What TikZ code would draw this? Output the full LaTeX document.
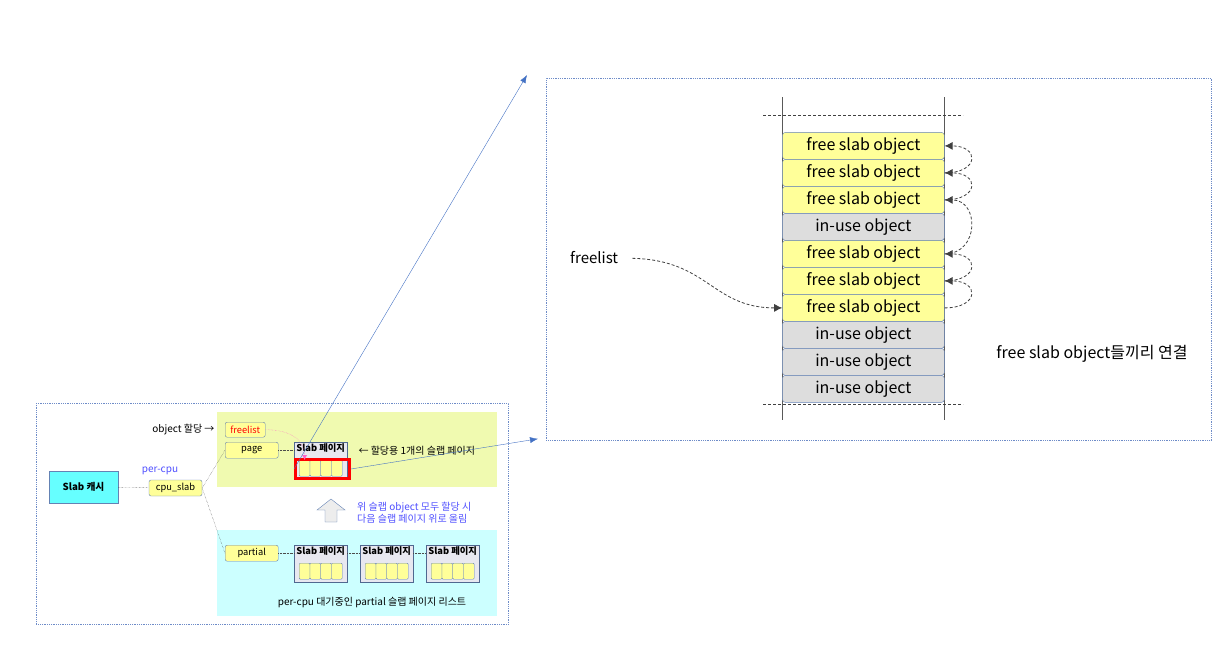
\documentclass[tikz,border=0pt]{standalone}
\usepackage{fontspec}
\setmainfont{Noto Sans CJK KR}
\usetikzlibrary{arrows.meta,positioning,calc,matrix}
\definecolor{FreeColor}{RGB}{255,255,153}
\definecolor{UsedColor}{RGB}{221,221,221}
\definecolor{EdgeColor}{RGB}{100,130,180}
\definecolor{FrameColor}{RGB}{110,140,200}
\definecolor{CacheColor}{RGB}{102,255,255}
\definecolor{CpuColor}{RGB}{240,250,176}
\definecolor{PartialColor}{RGB}{204,255,255}
\definecolor{PageColor}{RGB}{232,232,240}
\definecolor{LinkBlue}{RGB}{68,114,196}
\definecolor{NoteBlue}{RGB}{80,80,255}
\definecolor{PinkColor}{RGB}{255,100,200}

\begin{document}
\begin{tikzpicture}[x=1pt, y=-1pt, font=\fontsize{10}{10}\selectfont,
    frame/.style={draw=FrameColor, densely dotted, thick, minimum width=#1, anchor=north west, inner sep=0pt},
    region/.style={fill=#1, anchor=north west, inner sep=0pt, minimum width=280pt},
    field/.style={draw=EdgeColor, fill=FreeColor, rounded corners=2pt, minimum width=53pt,
        minimum height=16pt, inner sep=0pt, anchor=north west, font=\fontsize{9.3}{10}\selectfont},
    pagebox/.style={draw=EdgeColor!80!black, fill=PageColor, minimum width=53pt, minimum height=37pt,
        inner sep=0pt, anchor=north west},
    cell/.style={draw=EdgeColor, fill=FreeColor, rounded corners=1pt, minimum width=10.75pt,
        minimum height=16pt, inner sep=0pt, anchor=north west},
    link/.style={densely dotted, black!70},
    zoomlink/.style={LinkBlue, -{Latex[length=8pt,width=6pt]}},
    freelink/.style={densely dashed, black!75, thick, -{Latex[length=8pt,width=8pt]}},
    big/.style={font=\fontsize{16}{18}\selectfont},
    stack/.style={matrix of nodes, inner sep=0pt, anchor=north west,
        nodes={draw=EdgeColor, fill=FreeColor, rounded corners=3pt, minimum width=162pt,
            minimum height=27pt, inner sep=0pt, big},
        row sep=-\pgflinewidth,
        row 4/.style={nodes={fill=UsedColor}},
        row 8/.style={nodes={fill=UsedColor}},
        row 9/.style={nodes={fill=UsedColor}},
        row 10/.style={nodes={fill=UsedColor}}},
    slabpage/.pic={
        \node[pagebox] (-box) at (0,0) {};
        \node[font=\fontsize{9.3}{10}\selectfont\bfseries, anchor=north, inner sep=1pt] (-title) at (-box.north) {Slab 페이지};
        \foreach \i in {0,...,3}
            \node[cell] (-c\i) at (5+\i*10.75,18) {};
    }]

    \useasboundingbox (0,0) rectangle (1223,645);

    % overview
    \node[frame=472pt, minimum height=221pt] (Overview) at (36,403) {};
    \node[region=CpuColor, minimum height=75pt] (CpuArea) at (217,412) {};
    \node[region=PartialColor, minimum height=86pt] (PartialArea) at (217,530) {};

    \node[draw=EdgeColor, fill=CacheColor, minimum width=69pt, minimum height=32pt,
        font=\fontsize{9.7}{10}\selectfont\bfseries] (Cache) at (83.5,487) {Slab 캐시};
    \node[field, minimum width=53pt, anchor=center] (Cpu) at (175.5,488) {cpu\_slab};
    \node[text=NoteBlue] (PerCpu) at (160,471) {per-cpu};

    \node[field, minimum width=40pt, minimum height=15pt, text=red] (Freelist) at (225,422) {freelist};
    \node[field] (Page) at (225,442) {page};
    \node[field] (Partial) at (225,545) {partial};
    \node[anchor=east] (AllocNote) at (218,430) {object 할당 →};

    \pic (Main) at (294,442) {slabpage};
    \pic (P1) at (294,545) {slabpage};
    \pic (P2) at (360,545) {slabpage};
    \pic (P3) at (426,545) {slabpage};
    \node[draw=red, line width=3pt, minimum width=54pt, minimum height=19pt, inner sep=0pt] (Sel) at (322.5,469) {};

    \node[anchor=west] (PageNote) at (355,451) {← 할당용 1개의 슬랩 페이지};
    \node[text=NoteBlue, anchor=west, align=left, inner sep=0pt, font=\fontsize{10}{9.5}\selectfont] (MoveNote) at (357,513)
        {위 슬랩 object 모두 할당 시\\다음 슬랩 페이지 위로 올림};
    \node (ListNote) at (372,603) {per-cpu 대기중인 partial 슬랩 페이지 리스트};

    \draw[fill=black!7, draw=EdgeColor] (325,522) -- (325,510) -- (317,510) -- (331,499)
        -- (345,510) -- (337,510) -- (337,522) -- cycle;

    \draw[link] (Cache) -- (Cpu);
    \draw[link] (Cpu.east) -- (Page.west);
    \draw[link] (Cpu.east) -- (Partial.west);
    \draw[link] (Page.east) -- (Page.east -| Main-box.west);
    \draw[link] (Partial.east) -- (Partial.east -| P1-box.west);
    \draw[link] (Partial.east -| P1-box.east) -- (Partial.east -| P2-box.west);
    \draw[link] (Partial.east -| P2-box.east) -- (Partial.east -| P3-box.west);
    \draw[densely dotted, PinkColor, -{Latex[length=5pt,width=5pt]}]
        (Freelist.east) .. controls +(25,0) and +(0,-20) .. (Main-c0.north);

    % zoomed slab page
    \node[frame=665pt, minimum height=362pt] (Zoom) at (546,78) {};
    \coordinate (ZoomTop) at ($(Zoom.north west)+(-19,-3)$);
    \coordinate (ZoomBottom) at ($(Zoom.south west)+(-8,-2)$);
    \draw[zoomlink] (Sel.west) -- (ZoomTop);
    \draw[zoomlink] (Sel.east) -- (ZoomBottom);

    \draw[black!65, thick] (782,97) -- (782,420);
    \draw[black!65, thick] (944,97) -- (944,420);
    \draw[densely dashed, black!75] (763,115) -- (963,115);
    \draw[densely dashed, black!75] (763,404) -- (963,404);

    \matrix[stack] (Stack) at (782,132) {
        free slab object \\
        free slab object \\
        free slab object \\
        in-use object \\
        free slab object \\
        free slab object \\
        free slab object \\
        in-use object \\
        in-use object \\
        in-use object \\
    };

    \foreach \from/\to in {7/6, 6/5, 5/3, 3/2, 2/1}
        \draw[freelink] (Stack-\from-1.east) .. controls +(35,0) and +(35,0) .. (Stack-\to-1.east);

    \node[anchor=west, inner sep=0pt, font=\fontsize{15}{17}\selectfont] (FreeHead) at (570,258) {freelist};
    \draw[freelink, shorten <=14pt] (FreeHead.east) .. controls +(90,2) and +(-70,0) .. (Stack-7-1.west);

    \node[big] (Caption) at (1092,354) {free slab object들끼리 연결};

\end{tikzpicture}
\end{document}
